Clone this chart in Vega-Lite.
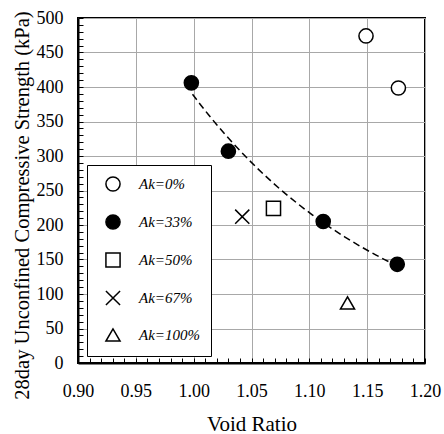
{
  "$schema": "https://vega.github.io/schema/vega-lite/v6.json",
  "autosize": {"type": "none"},
  "padding": {"left": 78, "top": 18, "right": 19, "bottom": 71},
  "width": 347,
  "height": 345,
  "background": "white",
  "data": {
    "values": [
      {"Ak": "Ak=0%", "Void": 1.149, "Strength": 474},
      {"Ak": "Ak=0%", "Void": 1.177, "Strength": 398.5},
      {"Ak": "Ak=33%", "Void": 0.998, "Strength": 406},
      {"Ak": "Ak=33%", "Void": 1.030, "Strength": 307},
      {"Ak": "Ak=33%", "Void": 1.112, "Strength": 205},
      {"Ak": "Ak=33%", "Void": 1.176, "Strength": 143},
      {"Ak": "Ak=50%", "Void": 1.069, "Strength": 224},
      {"Ak": "Ak=67%", "Void": 1.042, "Strength": 212},
      {"Ak": "Ak=100%", "Void": 1.133, "Strength": 87}
    ]
  },
  "encoding": {
    "x": {
      "field": "Void", "type": "quantitative",
      "scale": {"domain": [0.9, 1.2], "nice": false, "zero": false},
      "axis": {
        "title": "Void Ratio",
        "values": [0.9,0.91,0.92,0.93,0.94,0.95,0.96,0.97,0.98,0.99,1.0,1.01,1.02,1.03,1.04,1.05,1.06,1.07,1.08,1.09,1.1,1.11,1.12,1.13,1.14,1.15,1.16,1.17,1.18,1.19,1.2],
        "labelExpr": "abs(datum.value*20 - round(datum.value*20)) < 0.001 ? format(datum.value, '.2f') : ''",
        "gridOpacity": {"condition": {"test": "abs(datum.value*20 - round(datum.value*20)) < 0.001", "value": 1}, "value": 0},
        "tickSize": -5,
        "labelPadding": 24,
        "titlePadding": 13,
        "labelFont": "Liberation Serif",
        "titleFont": "Liberation Serif"
      }
    },
    "y": {
      "field": "Strength", "type": "quantitative",
      "scale": {"domain": [0, 500], "nice": false},
      "axis": {
        "title": "28day Unconfined Compressive Strength (kPa)",
        "values": [0,10,20,30,40,50,60,70,80,90,100,110,120,130,140,150,160,170,180,190,200,210,220,230,240,250,260,270,280,290,300,310,320,330,340,350,360,370,380,390,400,410,420,430,440,450,460,470,480,490,500],
        "labelExpr": "datum.value % 50 == 0 ? format(datum.value, 'd') : ''",
        "gridOpacity": {"condition": {"test": "datum.value % 50 == 0", "value": 1}, "value": 0},
        "tickSize": -5,
        "labelPadding": 20,
        "titlePadding": 4,
        "titleFontSize": 20.5,
        "titleY": 187,
        "labelFont": "Liberation Serif",
        "titleFont": "Liberation Serif"
      }
    }
  },
  "layer": [
    {
      "transform": [
        {"filter": "datum.Ak === 'Ak=33%'"},
        {"regression": "Strength", "on": "Void", "method": "exp", "extent": [0.999, 1.172]}
      ],
      "mark": {"type": "line", "color": "black", "strokeDash": [7, 4], "strokeWidth": 1.5}
    },
    {
      "mark": {"type": "point", "filled": true, "size": 200, "strokeWidth": 1.5, "opacity": 1},
      "encoding": {
        "shape": {
          "field": "Ak", "type": "nominal",
          "scale": {
            "domain": ["Ak=0%", "Ak=33%", "Ak=50%", "Ak=67%", "Ak=100%"],
            "range": ["circle", "circle", "square", "M-1,-1L1,1M-1,1L1,-1", "triangle-up"]
          },
          "legend": {
            "orient": "none", "legendX": 9, "legendY": 147, "title": null,
            "fillColor": "white", "strokeColor": "black", "padding": 11,
            "symbolSize": 200, "symbolStrokeWidth": 1.5,
            "symbolOffset": 7, "labelOffset": 18, "rowPadding": 16,
            "labelFontSize": 15, "labelFontStyle": "italic", "labelFont": "Liberation Serif",
            "labelColor": "black",
            "labelExpr": "datum.label + '\u00a0\u00a0\u00a0\u00a0'"
          }
        },
        "fill": {
          "field": "Ak", "type": "nominal",
          "scale": {
            "domain": ["Ak=0%", "Ak=33%", "Ak=50%", "Ak=67%", "Ak=100%"],
            "range": ["white", "black", "white", "white", "white"]
          },
          "legend": {
            "orient": "none", "legendX": 9, "legendY": 147, "title": null,
            "fillColor": "white", "strokeColor": "black", "padding": 11,
            "symbolSize": 200, "symbolStrokeWidth": 1.5,
            "symbolOffset": 7, "labelOffset": 18, "rowPadding": 16,
            "labelFontSize": 15, "labelFontStyle": "italic", "labelFont": "Liberation Serif",
            "labelColor": "black",
            "labelExpr": "datum.label + '\u00a0\u00a0\u00a0\u00a0'"
          }
        },
        "stroke": {
          "field": "Ak", "type": "nominal",
          "scale": {
            "domain": ["Ak=0%", "Ak=33%", "Ak=50%", "Ak=67%", "Ak=100%"],
            "range": ["black", "black", "black", "black", "black"]
          },
          "legend": {
            "orient": "none", "legendX": 9, "legendY": 147, "title": null,
            "fillColor": "white", "strokeColor": "black", "padding": 11,
            "symbolSize": 200, "symbolStrokeWidth": 1.5,
            "symbolOffset": 7, "labelOffset": 18, "rowPadding": 16,
            "labelFontSize": 15, "labelFontStyle": "italic", "labelFont": "Liberation Serif",
            "labelColor": "black",
            "labelExpr": "datum.label + '\u00a0\u00a0\u00a0\u00a0'"
          }
        }
      }
    }
  ],
  "config": {
    "font": "Liberation Serif",
    "style": {
      "guide-label": {"font": "Liberation Serif"},
      "guide-title": {"font": "Liberation Serif"}
    },
    "view": {"stroke": "black", "strokeWidth": 2},
    "axis": {
      "labelFont": "Liberation Serif",
      "titleFont": "Liberation Serif",
      "labelFontSize": 18,
      "titleFontSize": 21,
      "titleFontWeight": "normal",
      "labelColor": "black",
      "titleColor": "black",
      "domainColor": "black",
      "domainWidth": 2,
      "tickColor": "black",
      "tickWidth": 1,
      "gridColor": "#a8a8a8",
      "gridWidth": 1,
      "labelFlush": false
    }
  }
}
